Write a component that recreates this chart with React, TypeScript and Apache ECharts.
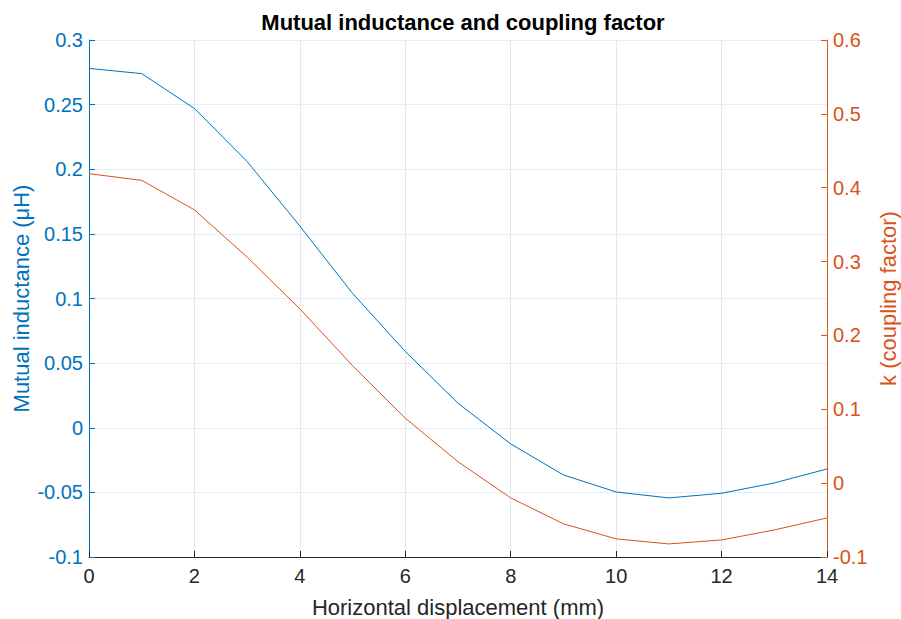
import React, { useEffect, useRef } from "react";
import * as echarts from "echarts";

const displacement = [0, 1, 2, 3, 4, 5, 6, 7, 8, 9, 10, 11, 12, 13, 14];
const mutualInductance = [0.278, 0.274, 0.247, 0.206, 0.156, 0.104, 0.059, 0.019, -0.0125, -0.0365, -0.0497, -0.0543, -0.0507, -0.0427, -0.0319];
const couplingFactor = [0.419, 0.410, 0.370, 0.306, 0.236, 0.159, 0.088, 0.029, -0.020, -0.055, -0.0755, -0.0823, -0.0769, -0.0634, -0.0471];

const BLUE = "#0072BD";
const ORANGE = "#D95319";
const DARK = "#262626";
const FONT = "'Liberation Sans', Arial, Helvetica, sans-serif";

export default function App() {
  const ref = useRef<HTMLDivElement>(null);
  useEffect(() => {
    if (!ref.current) return;
    const chart = echarts.init(ref.current, undefined, { renderer: "svg" });
    chart.setOption({
      animation: false,
      backgroundColor: "#ffffff",
      textStyle: { fontFamily: FONT },
      title: {
        text: "Mutual inductance and coupling factor",
        left: 458,
        top: 6,
        textAlign: "center",
        textStyle: { fontFamily: FONT, fontSize: 22, fontWeight: "bold", color: "#000" },
      },
      grid: { left: 89, right: 74, top: 40, bottom: 62, containLabel: false, outerBoundsMode: "none" },
      xAxis: {
        type: "value",
        min: 0,
        max: 14,
        interval: 2,
        name: "Horizontal displacement (mm)",
        nameLocation: "middle",
        nameGap: 39,
        nameMoveOverlap: false,
        nameTextStyle: { fontFamily: FONT, fontSize: 22, color: DARK },
        axisLine: { show: true, onZero: false, lineStyle: { color: DARK, width: 1 } },
        axisTick: { show: true, inside: true, length: 6, lineStyle: { color: DARK } },
        axisLabel: { fontFamily: FONT, fontSize: 20, color: DARK, margin: 9 },
        splitLine: { show: true, lineStyle: { color: "#e3e6ea", width: 1 } },
      },
      yAxis: [
        {
          type: "value",
          position: "left",
          min: -0.1,
          max: 0.3,
          interval: 0.05,
          name: "Mutual inductance (μH)",
          nameLocation: "middle",
          nameGap: 57,
          nameMoveOverlap: false,
          nameTextStyle: { fontFamily: FONT, fontSize: 22, color: BLUE },
          axisLine: { show: true, onZero: false, lineStyle: { color: BLUE, width: 1 } },
          axisTick: { show: true, inside: true, length: 6, lineStyle: { color: BLUE } },
          axisLabel: { fontFamily: FONT, fontSize: 20, color: BLUE, margin: 6 },
          splitLine: { show: true, lineStyle: { color: "#e2eef8", width: 1 } },
        },
        {
          type: "value",
          position: "right",
          min: -0.1,
          max: 0.6,
          interval: 0.1,
          name: "k (coupling factor)",
          nameLocation: "middle",
          nameGap: 50,
          nameRotate: 90,
          nameMoveOverlap: false,
          nameTextStyle: { fontFamily: FONT, fontSize: 22, color: ORANGE },
          axisLine: { show: true, onZero: false, lineStyle: { color: ORANGE, width: 1 } },
          axisTick: { show: true, inside: true, length: 6, lineStyle: { color: ORANGE } },
          axisLabel: { fontFamily: FONT, fontSize: 20, color: ORANGE, margin: 6 },
          splitLine: { show: false },
        },
      ],
      series: [
        {
          type: "line",
          yAxisIndex: 0,
          data: displacement.map((x, i) => [x, mutualInductance[i]]),
          showSymbol: false,
          lineStyle: { color: BLUE, width: 1 },
          itemStyle: { color: BLUE },
        },
        {
          type: "line",
          yAxisIndex: 1,
          data: displacement.map((x, i) => [x, couplingFactor[i]]),
          showSymbol: false,
          lineStyle: { color: ORANGE, width: 1 },
          itemStyle: { color: ORANGE },
        },
      ],
    });
    return () => chart.dispose();
  }, []);
  return <div ref={ref} style={{ width: 901, height: 619, position: "fixed", left: 0, top: 0 }} />;
}
